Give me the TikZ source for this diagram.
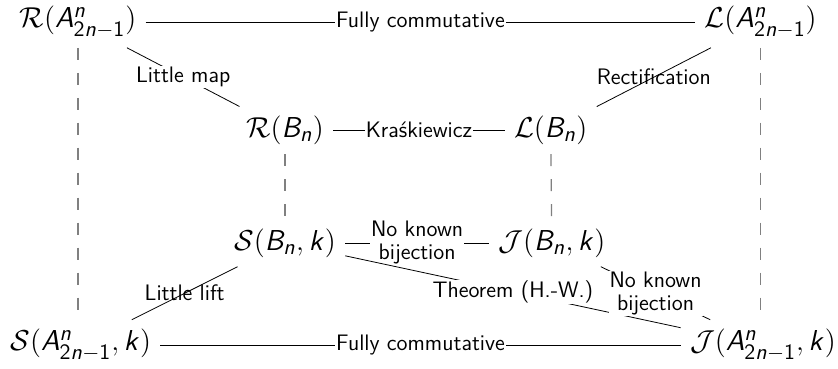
\documentclass[tikz,border=0pt]{standalone}
\usepackage{amsmath}
\usepackage{amssymb}
\DeclareMathAlphabet{\mathsfit}{OT1}{cmss}{m}{sl}
\DeclareMathAlphabet{\mathsfup}{OT1}{cmss}{m}{n}
\newcommand{\typeA}{\mathsfit{A}^{\mathsfit{n}}_{\mathsfup{2}\mathsfit{n}-\mathsfup{1}}}
\newcommand{\typeB}{\mathsfit{B}_{\mathsfit{n}}}

\begin{document}
\begin{tikzpicture}[font=\sffamily\fontsize{11.2}{11.5}\selectfont,
  set/.style={font=\fontsize{15.8}{18}\selectfont, inner sep=4.5pt},
  lbl/.style={fill=white, inner sep=0.5pt, align=center},
  lblthru/.style={inner sep=0.5pt, align=center},
  vdash/.style={gray, line width=0.6pt, dash pattern=on 6pt off 6.5pt}]
\useasboundingbox (0,0) rectangle (14.73,6.47);
% outer square
\node[set] (RA) at (1.37,6.08) {$\mathcal{R}(\typeA)$};
\node[set] (LA) at (13.37,6.08) {$\mathcal{L}(\typeA)$};
\node[set] (SA) at (1.42,0.40) {$\mathcal{S}(\typeA,\mathsfit{k})$};
\node[set] (JA) at (13.41,0.40) {$\mathcal{J}(\typeA,\mathsfit{k})$};
% inner square
\node[set] (RB) at (5.01,4.18) {$\mathcal{R}(\typeB)$};
\node[set] (LB) at (9.68,4.18) {$\mathcal{L}(\typeB)$};
\node[set] (SB) at (5.01,2.20) {$\mathcal{S}(\typeB,\mathsfit{k})$};
\node[set] (JB) at (9.70,2.20) {$\mathcal{J}(\typeB,\mathsfit{k})$};
\draw (RA) -- node[lbl] {Fully commutative} (LA);
\draw (SA) -- node[lbl] {Fully commutative} (JA);
\draw (RB) -- node[lbl] {Kra\'skiewicz} (LB);
\draw (SB) -- node[lbl] {No known\\bijection} (JB);
\draw (RA) -- node[lbl] {Little map} (RB);
\draw (LA) -- node[lblthru] {Rectification} (LB);
\draw (SB) -- node[lblthru] {Little lift} (SA);
\draw (SB) -- node[lbl] {Theorem (H.-W.)} (JA);
\draw (JB) -- node[lbl] {No known\\bijection} (JA);
\draw[vdash] (RA.south) -- (RA.south |- SA.north);
\draw[vdash] (LA.south) -- (LA.south |- JA.north);
\draw[vdash] (RB) -- (SB);
\draw[vdash] (LB) -- (JB);
\end{tikzpicture}
\end{document}
